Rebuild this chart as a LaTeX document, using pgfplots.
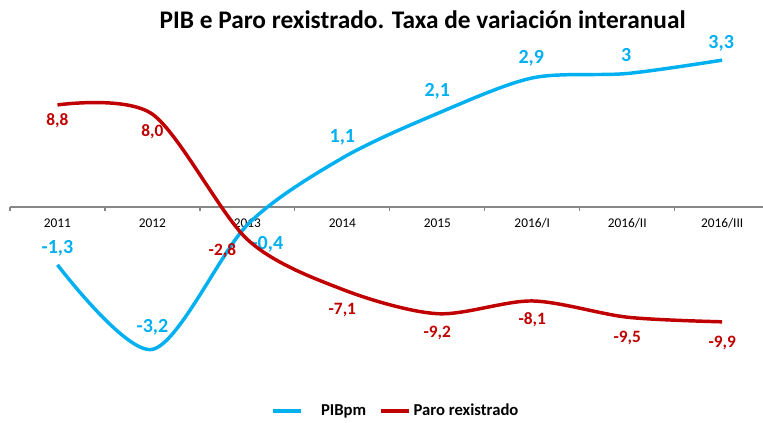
\documentclass[border=0pt]{standalone}
\usepackage{pgfplots}
\pgfplotsset{compat=1.18}
\usepackage{pgfplotstable}
\usepackage{fontspec}
\setmainfont{Carlito}
\definecolor{pib}{HTML}{00B0F0}
\definecolor{paro}{HTML}{C00000}
\definecolor{axisgray}{HTML}{868686}

\pgfplotstableread{
x y dx dy lab
0 -1.3 0 12.75 {-1,3}
1 -3.2 0 16.5 {-3,2}
2 -0.4 15 -15 {-0,4}
3 1.1 0 15.75 {1,1}
4 2.1 0 16.5 {2,1}
5 2.9 -0.75 15 {2,9}
6 3.0 -0.75 13.5 {3}
7 3.3 -0.75 12.75 {3,3}
}\pibdata

\pgfplotstableread{
x y dx dy lab
0 8.8 0 -12 {8,8}
1 8.0 0 -12.75 {8,0}
2 -2.8 -18.75 -8.25 {-2,8}
3 -7.1 0 -15.75 {-7,1}
4 -9.2 0 -14.25 {-9,2}
5 -8.1 0 -14.25 {-8,1}
6 -9.5 0 -15.75 {-9,5}
7 -9.9 0 -15.75 {-9,9}
}\parodata

\pgfplotsset{
  base/.style={
    at={(7.5pt,32.25pt)}, anchor=south west,
    scale only axis, width=564.75pt, height=255pt,
    xmin=-0.5, xmax=7.43, clip=false,
  },
  labs/.style={
    nodes near coords, point meta=explicit symbolic,
    visualization depends on={\thisrow{dx} \as \labdx},
    visualization depends on={\thisrow{dy} \as \labdy},
    every node near coord/.append style={anchor=center, inner sep=0pt, xshift=\labdx, yshift=\labdy, font=\bfseries #1},
  },
}

\begin{document}
\begin{tikzpicture}
\useasboundingbox (0,0) rectangle (572.25pt,317.25pt);
\begin{axis}[
  base,
  ymin=-3.888, ymax=3.753,
  axis x line=middle, axis y line=none,
  axis line style={-, axisgray, line width=0.9pt},
  xtick={0,...,7},
  xticklabels={2011,2012,2013,2014,2015,2016/I,2016/II,2016/III},
  major tick length=0pt,
  minor xtick={-0.5,0.5,...,6.5},
  minor tick length=3pt,
  minor tick style={axisgray, line width=0.9pt},
  tick align=outside,
  xticklabel style={font=\fontsize{10}{12}\selectfont, anchor=center, yshift=-12.25pt},
  title={PIB e Paro rexistrado. Taxa de variación interanual},
  title style={at={(0.548,1.035)}, anchor=center, font=\bfseries\fontsize{19}{22}\selectfont},
]
\addplot[pib, line width=2.6pt, smooth, labs={\fontsize{15}{17}\selectfont\color{pib}}]
  table[x=x, y=y, meta=lab] {\pibdata};
\end{axis}
\begin{axis}[
  base,
  ymin=-14.914, ymax=14.397,
  hide axis,
  legend style={at={(0.5126,-0.0912)}, anchor=center, draw=none, fill=none,
    legend columns=2, font=\bfseries\fontsize{12.5}{14}\selectfont,
    /tikz/every even column/.append style={column sep=8pt},
    cells={anchor=west}, inner sep=0pt},
  legend image code/.code={\draw[#1] (0pt,0pt) -- (21pt,0pt);},
]
\addlegendimage{pib, line width=2.6pt}
\addlegendentry{\hspace{12pt}PIBpm}
\addplot[paro, line width=2.6pt, smooth, labs={\fontsize{13}{15}\selectfont\color{paro}}]
  table[x=x, y=y, meta=lab] {\parodata};
\addlegendentry{Paro rexistrado}
\end{axis}
\end{tikzpicture}
\end{document}
